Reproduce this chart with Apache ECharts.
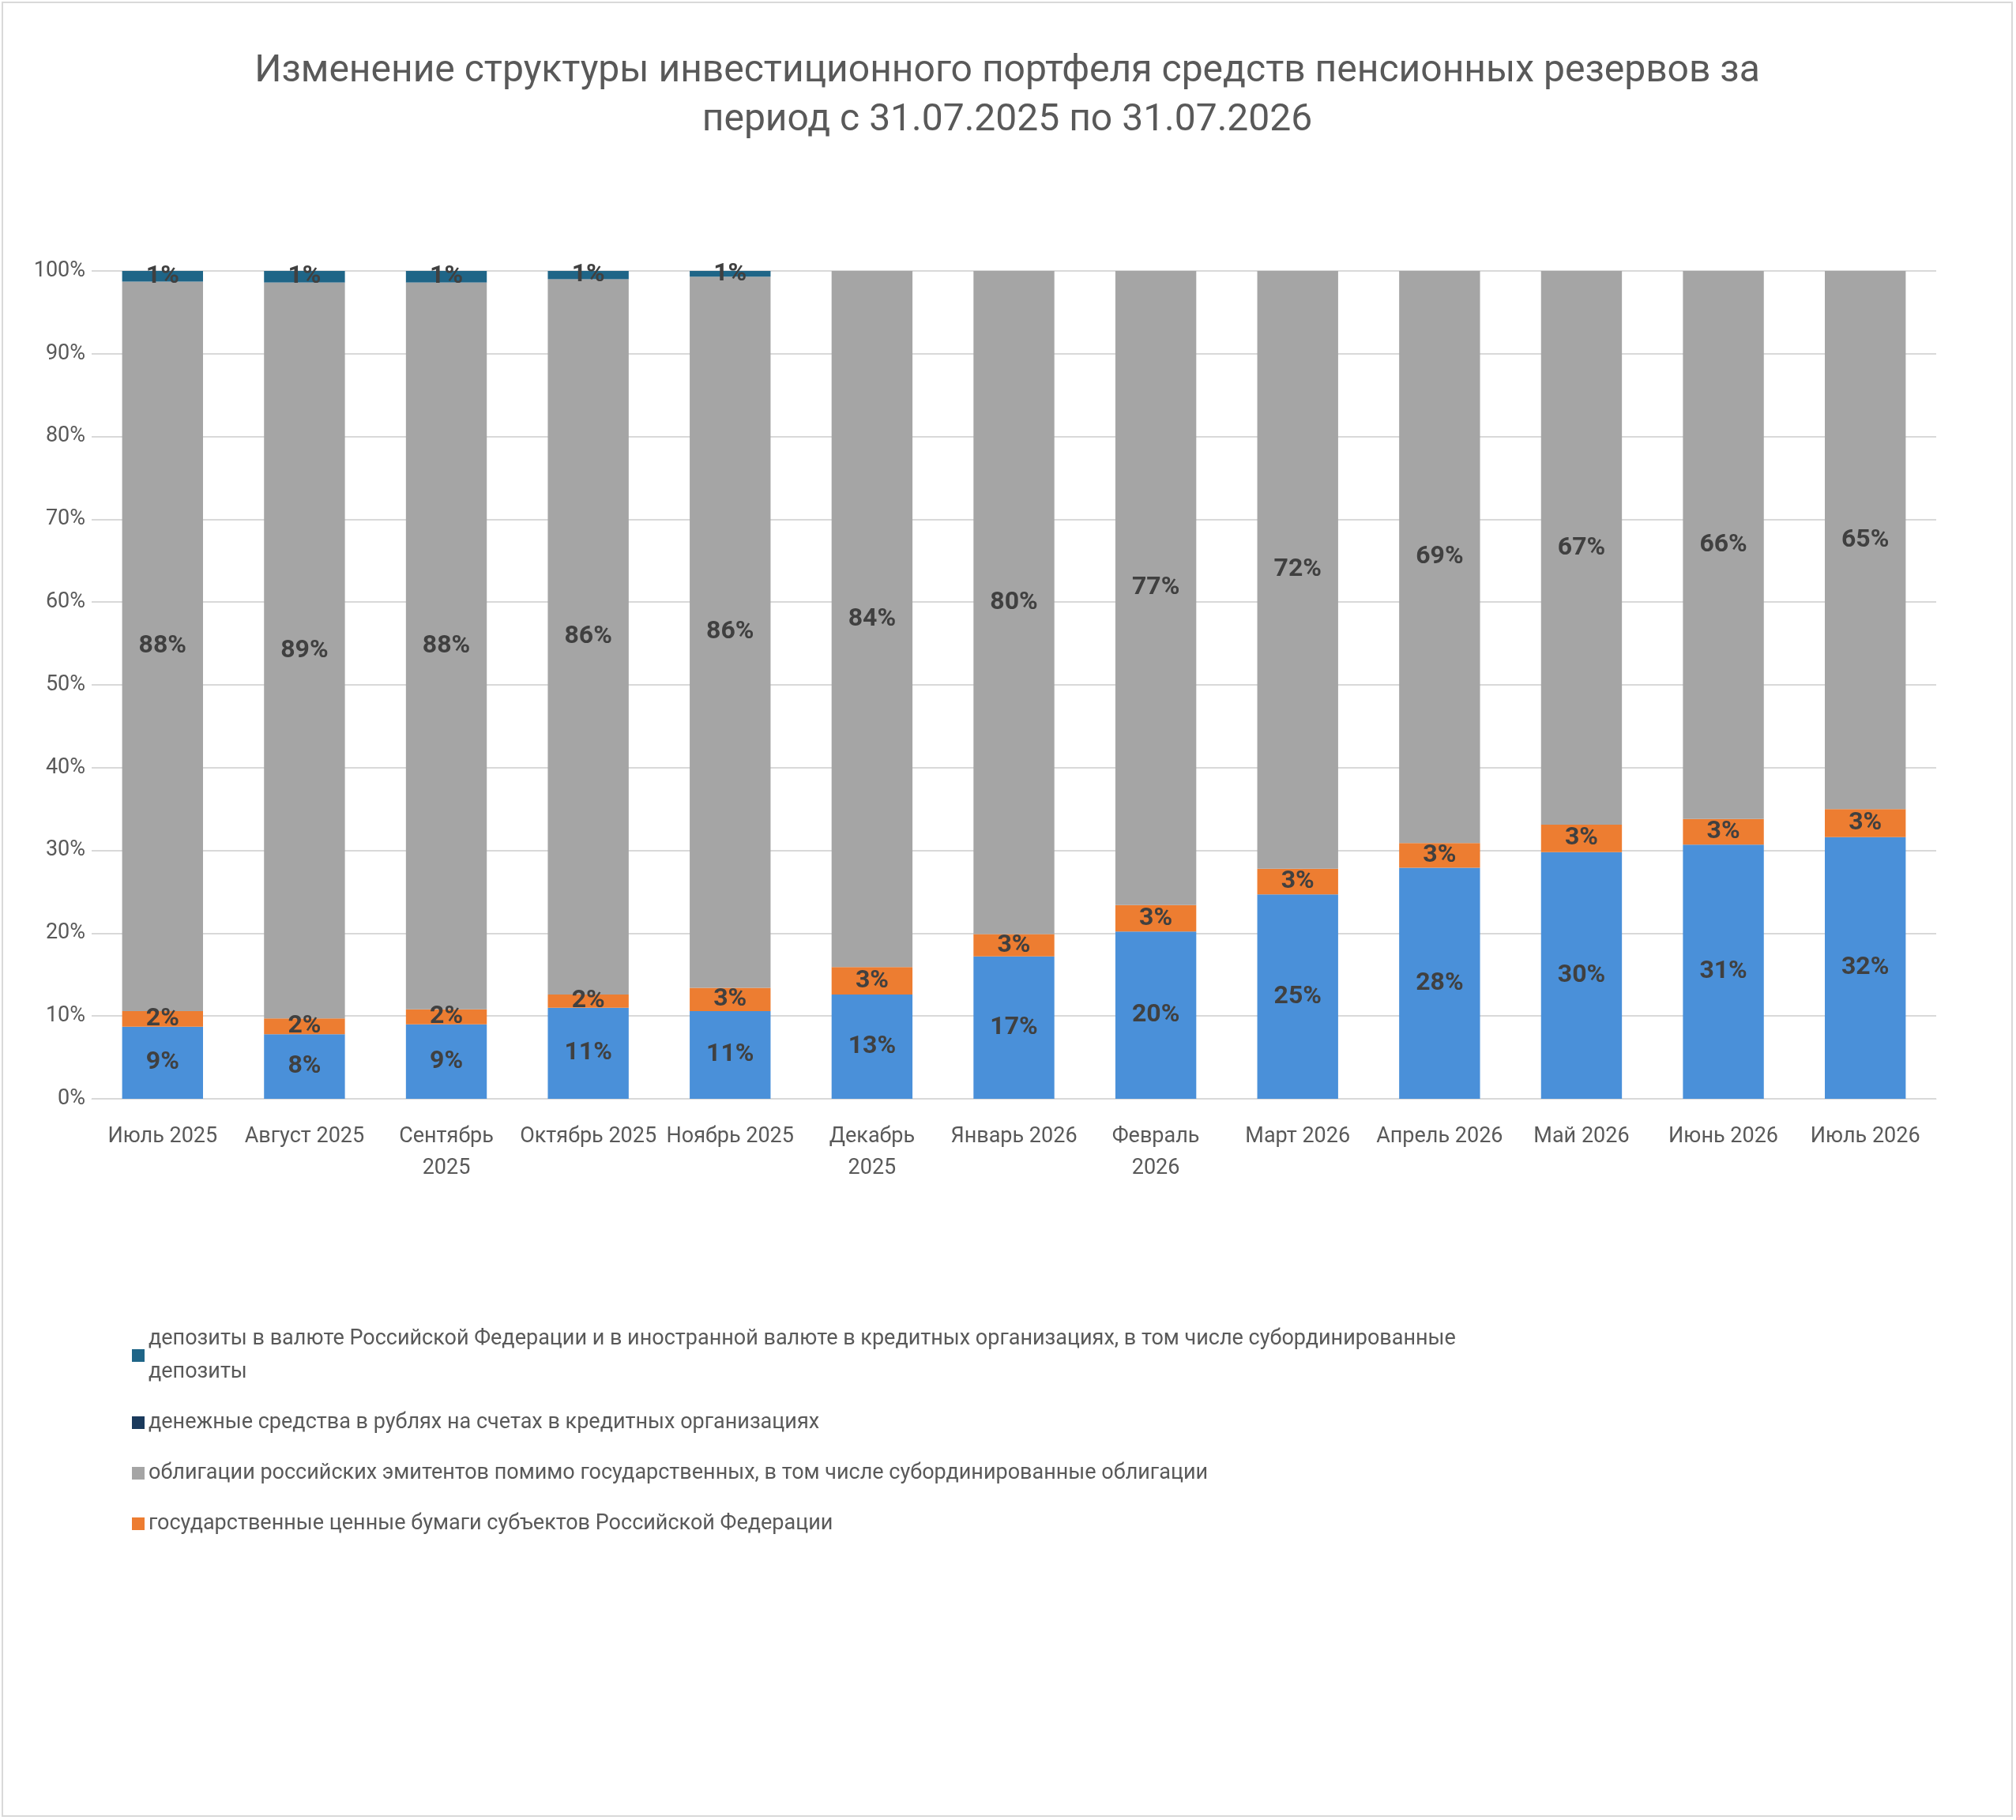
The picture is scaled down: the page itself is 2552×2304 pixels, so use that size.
<!DOCTYPE html>
<html><head><meta charset="utf-8">
<script src="https://cdn.jsdelivr.net/npm/echarts@6/dist/echarts.min.js"></script>
<style>
html,body{margin:0;padding:0;background:#fff}
#c{position:absolute;left:2px;top:2px;width:2546px;height:2298px;border:2px solid #d9d9d9;box-sizing:border-box}
</style></head>
<body><div id="c"></div>
<script>
const months = ['Июль 2025','Август 2025','Сентябрь\n2025','Октябрь 2025','Ноябрь 2025','Декабрь\n2025','Январь 2026','Февраль\n2026','Март 2026','Апрель 2026','Май 2026','Июнь 2026','Июль 2026'];
const federalBonds = [8.7,7.8,9.0,11.0,10.6,12.6,17.2,20.2,24.7,27.9,29.8,30.7,31.6];
const regionalBonds = [1.9,1.9,1.8,1.6,2.8,3.3,2.7,3.2,3.1,3.0,3.3,3.1,3.4];
const corporateBonds = [88.1,88.9,87.8,86.4,85.9,84.1,80.1,76.6,72.2,69.1,66.9,66.2,65.0];
const cash = [0.02,0.02,0.02,0.02,0.02,0.01,0.01,0.01,0.01,0.01,0.01,0.01,0.01];
const deposits = [1.3,1.4,1.4,1.0,0.7,0.02,0.02,0.02,0.02,0.02,0.02,0.02,0.02];

const names = {
  dep: 'депозиты в валюте Российской Федерации и в иностранной валюте в кредитных организациях, в том числе субординированные\nдепозиты',
  cash: 'денежные средства в рублях на счетах в кредитных организациях',
  corp: 'облигации российских эмитентов помимо государственных, в том числе субординированные облигации',
  reg: 'государственные ценные бумаги субъектов Российской Федерации',
  fed: 'государственные ценные бумаги Российской Федерации'
};

const lbl = {show:true, position:'inside', formatter:p=>Math.round(p.value)+'%', color:'#404040', fontWeight:'bold', fontSize:32, fontFamily:'Roboto'};
function s(name, data, color, label){
  return {name, type:'bar', stack:'t', data, barCategoryGap:'43%', itemStyle:{color}, label: label===false?{show:false}:(label||lbl)};
}
const titleStyle = {fontSize:48, fontWeight:'normal', color:'#595959'};
const chart = echarts.init(document.getElementById('c'));
chart.setOption({
  animation:false,
  textStyle:{fontFamily:'Roboto'},
  title:[
    {text:'Изменение структуры инвестиционного портфеля средств пенсионных резервов за', left:'center', top:58, textStyle:titleStyle},
    {text:'период с 31.07.2025 по 31.07.2026', left:'center', top:120, textStyle:titleStyle}
  ],
  grid:{left:112, right:95, top:339, bottom:907, containLabel:false},
  xAxis:{type:'category', data:months, axisTick:{show:false}, axisLine:{lineStyle:{color:'#d9d9d9'}},
    axisLabel:{fontSize:27, color:'#595959', lineHeight:40, margin:28, interval:0}},
  yAxis:{type:'value', min:0, max:100, interval:10, axisLabel:{formatter:'{value}%', fontSize:27, color:'#595959'},
    splitLine:{lineStyle:{color:'#d9d9d9', width:2}}},
  legend:{orient:'vertical', left:158, top:1665, itemWidth:16, itemHeight:16, icon:'rect', itemGap:22,
    data:[names.dep, names.cash, names.corp, names.reg],
    textStyle:{fontSize:27, color:'#595959', lineHeight:42}},
  series:[
    s(names.fed, federalBonds, '#4a90d9'),
    s(names.reg, regionalBonds, '#ed7d31'),
    s(names.corp, corporateBonds, '#a5a5a5'),
    s(names.cash, cash, '#1a3a5c', false),
    s(names.dep, deposits, '#1f6587')
  ]
});
</script></body></html>
